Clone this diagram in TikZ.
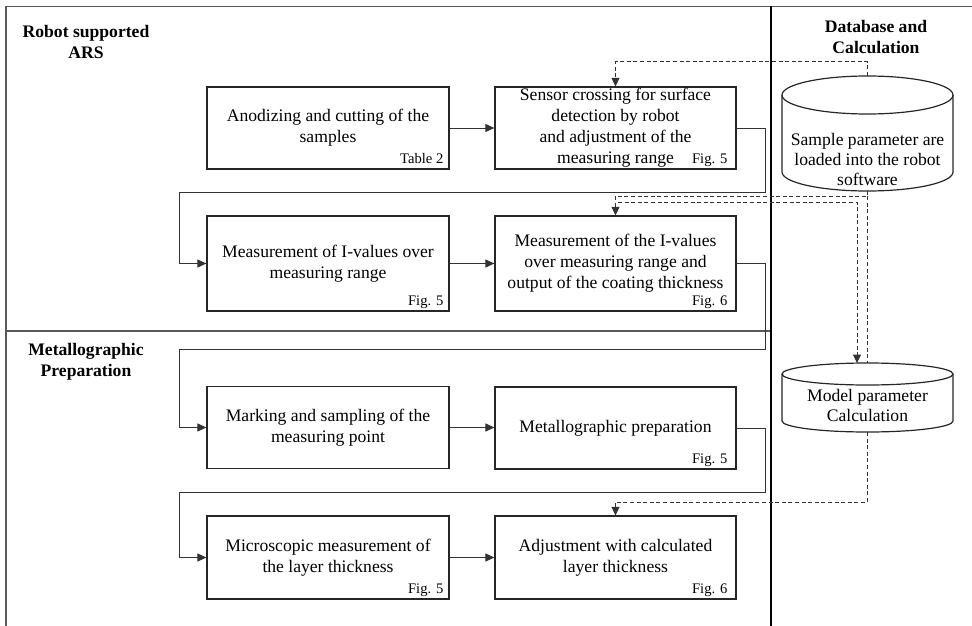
\documentclass[tikz,border=0pt]{standalone}
\usepackage{fontspec}
\setmainfont{Liberation Serif}
\usetikzlibrary{arrows.meta}
\begin{document}
\begin{tikzpicture}[x=1pt,y=-1pt,
  procbox/.style={draw=black!85, line width=1.2pt, inner sep=0pt, align=center,
    font=\fontsize{17.6}{21}\selectfont},
  leftcol/.style={procbox, minimum width=242pt},
  rightcol/.style={procbox, minimum width=241pt},
  lbl/.style={inner sep=0pt, anchor=base east, font=\fontsize{14.6}{16}\selectfont},
  heading/.style={inner sep=0pt, align=center, font=\bfseries\fontsize{17.6}{21}\selectfont},
  cyltext/.style={inner sep=0pt, align=center, font=\fontsize{17.6}{20}\selectfont},
  cyl/.style={draw=black!85, line width=1.2pt},
  flow/.style={draw=black!80, line width=1pt, -{Triangle[length=9pt,width=8pt]}},
  dataflow/.style={draw=black!80, line width=1pt, dash pattern=on 4pt off 2.6pt},
  dataarrow/.style={dataflow, -{Triangle[length=8.5pt,width=8pt]}},
  frameline/.style={draw=black!65, line width=1.4pt}
]
\useasboundingbox (0,0) rectangle (972,626);

% frame and lanes
\draw[frameline] (972,6.5) -- (6,6.5) -- (6,626);
\draw[frameline] (6,331) -- (771,331);
\draw[black, line width=2pt] (771,6.5) -- (771,626);

% headings
\node[heading] (h1) at (86,41.5) {Robot supported\\ARS};
\node[heading] (h2) at (876,37) {Database and\\Calculation};
\node[heading] (h3) at (86,362) {Metallographic\\Preparation};

% process boxes
\node[leftcol, minimum height=82pt] (A) at (328,128) {Anodizing and cutting of the\\samples};
\node[rightcol, minimum height=82pt] (B) at (615.5,128) {\raisebox{0pt}[\height][\depth]{}Sensor crossing for surface\\detection by robot\\and adjustment of the\\measuring range};
\node[leftcol, minimum height=95pt] (C) at (328,263.5) {Measurement of I-values over\\measuring range};
\node[rightcol, minimum height=95pt] (D) at (615.5,263.5) {Measurement of the I-values\\over measuring range and\\output of the coating thickness};
\node[leftcol, minimum height=82pt] (E) at (328,427.5) {Marking and sampling of the\\measuring point};
\node[rightcol, minimum height=82pt] (F) at (615.5,428) {Metallographic preparation};
\node[leftcol, minimum height=83pt] (G) at (328,557.5) {Microscopic measurement of\\the layer thickness};
\node[rightcol, minimum height=83pt] (H) at (615.5,557.5) {Adjustment with calculated\\layer thickness};

% reference labels
\node[lbl] (lA) at ([shift={(-6pt,6pt)}]A.south east) {Table 2};
\node[lbl] (lB) at ([shift={(-9pt,6pt)}]B.south east) {Fig. 5};
\node[lbl] (lC) at ([shift={(-6pt,6pt)}]C.south east) {Fig. 5};
\node[lbl] (lD) at ([shift={(-9pt,6pt)}]D.south east) {Fig. 6};
\node[lbl] (lF) at ([shift={(-9pt,6pt)}]F.south east) {Fig. 5};
\node[lbl] (lG) at ([shift={(-6pt,6pt)}]G.south east) {Fig. 5};
\node[lbl] (lH) at ([shift={(-9pt,6pt)}]H.south east) {Fig. 6};

% cylinders
\draw[cyl] (782,95) -- (782,172) arc[start angle=180, end angle=0, x radius=85.5, y radius=19] -- (953,95);
\draw[cyl] (867.5,95) ellipse [x radius=85.5, y radius=19];
\node[cyltext] (S) at (867.5,159.5) {Sample parameter are\\loaded into the robot\\software};
\coordinate (Stop) at (867.5,76);
\coordinate (Sbot) at (867.5,191);

\draw[cyl] (782,374) -- (782,421) arc[start angle=180, end angle=0, x radius=85.5, y radius=11] -- (953,374);
\draw[cyl] (867.5,374) ellipse [x radius=85.5, y radius=11];
\node[cyltext] (M) at (867.5,405.5) {Model parameter\\Calculation};
\coordinate (Mtop) at (867.5,363);
\coordinate (Mbot) at (867.5,432);

% solid process flow
\draw[flow] (A) -- (B);
\draw[flow] (B.east) -- (765,128) |- (179,192) |- (C.west);
\draw[flow] (C) -- (D);
\draw[flow] (D.east) -- (765,263.5) |- (179,349) |- (E.west);
\draw[flow] (E.east) -- (F.west |- E.east);
\draw[flow] (F.east) -- (765,428) |- (179,492) |- (G.west);
\draw[flow] (G) -- (H);

% dashed data flow
\draw[dataarrow] (Stop) -- (867.5,62) -| (B.north);
\draw[dataarrow] (Sbot) -- (867.5,196) -| (D.north);
\draw[dataflow] (867.5,196) -- (Mtop);
\coordinate (Dtap) at (618,202);
\draw[dataarrow] (Dtap) -- (857,202) -- (857,363);
\draw[dataarrow] (Mbot) -- (867.5,502) -| (H.north);
\end{tikzpicture}
\end{document}
